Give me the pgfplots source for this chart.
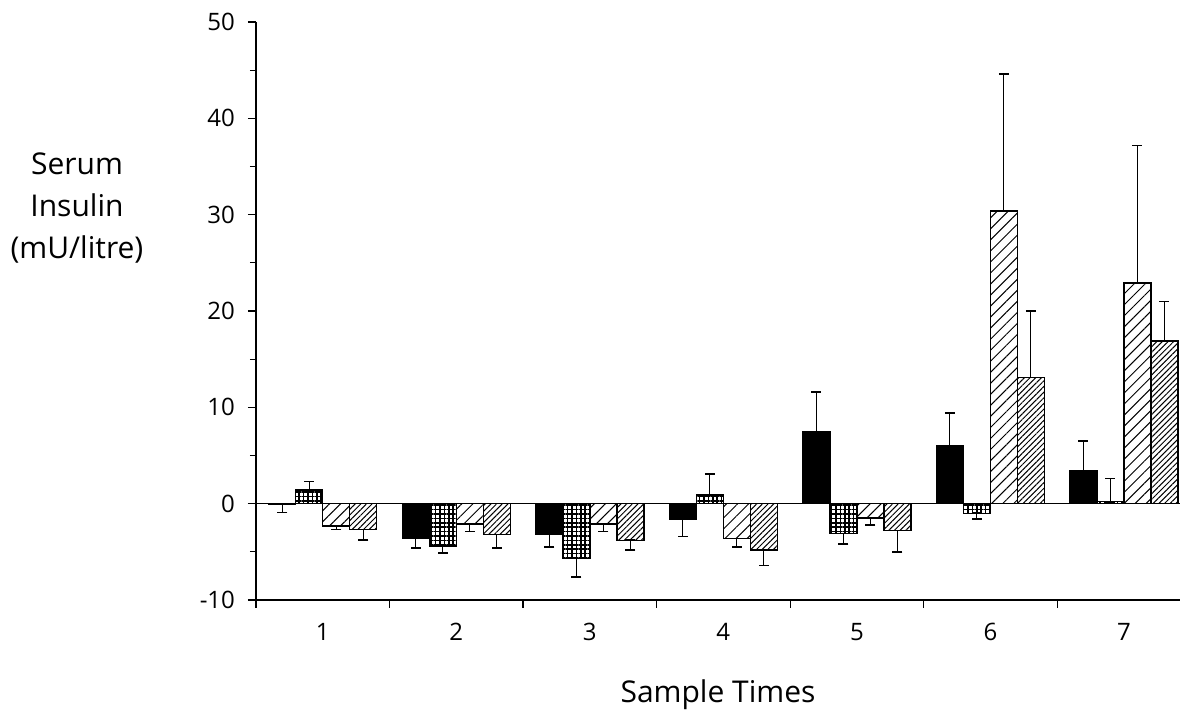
\documentclass[border=0pt]{standalone}
\usepackage{fontspec}
\setmainfont{Open Sans}
\usepackage{pgfplots}
\pgfplotsset{compat=1.18}
\usepackage{pgfplotstable}
\usetikzlibrary{patterns.meta}

% x = sample time, y = mean change, ep/em = error bar up/down
\pgfplotstableread{
x y ep em
1 -0.1 0 0.8
2 -3.6 0 1.0
3 -3.2 0 1.3
4 -1.6 0 1.8
5 7.5 4.1 0
6 6.0 3.4 0
7 3.4 3.1 0
}\tA
\pgfplotstableread{
x y ep em
1 1.4 0.9 0
2 -4.4 0 0.7
3 -5.7 0 1.9
4 0.9 2.2 0
5 -3.1 0 1.1
6 -1.0 0 0.6
7 0.2 2.4 0
}\tB
\pgfplotstableread{
x y ep em
1 -2.3 0 0.4
2 -2.1 0 0.8
3 -2.1 0 0.8
4 -3.6 0 0.9
5 -1.5 0 0.7
6 30.4 14.2 0
7 22.9 14.3 0
}\tC
\pgfplotstableread{
x y ep em
1 -2.7 0 1.1
2 -3.2 0 1.4
3 -3.8 0 1.0
4 -4.8 0 1.6
5 -2.8 0 2.2
6 13.1 6.9 0
7 16.9 4.1 0
}\tD

\begin{document}
\begin{tikzpicture}
\begin{axis}[
  scale only axis,
  width=462pt, height=289pt,
  xmin=0.5, xmax=7.42, ymin=-10, ymax=50,
  axis x line=bottom, axis y line=left,
  axis line style={-, line width=0.8pt},
  ybar=0pt, bar width=13.5pt,
  xtick={0.5,1.5,2.5,3.5,4.5,5.5,6.5},
  xticklabels={,,,,,,},
  extra x ticks={1,2,3,4,5,6,7},
  extra x tick labels={1,2,3,4,5,6,7},
  extra x tick style={major tick length=0pt, tick label style={yshift=-8pt}},
  ytick={-10,0,10,20,30,40,50},
  minor ytick={-5,5,15,25,35,45},
  extra y ticks={0}, extra y tick labels={},
  extra y tick style={grid=major, major grid style={black, line width=0.8pt}},
  tick align=outside, major tick length=4pt, minor tick length=3pt,
  tick style={black, line width=0.6pt},
  tick label style={font=\fontsize{12}{14}\selectfont},
  yticklabel style={xshift=-3pt},
  /pgf/number format/assume math mode=true,
  error bars/y dir=both, error bars/y explicit,
  error bars/error bar style={black, line width=0.6pt},
  error bars/error mark options={rotate=90, black, mark size=2.5pt, line width=0.8pt},
  every axis plot/.append style={draw=black, line width=0.7pt},
  clip=false,
]
\addplot[fill=black] table[x=x, y=y, y error plus=ep, y error minus=em] {\tA};
\addplot[pattern={Hatch[angle=0, distance=2.2pt, line width=0.8pt]}] table[x=x, y=y, y error plus=ep, y error minus=em] {\tB};
\addplot[pattern={Lines[angle=45, distance=3.9pt, line width=0.5pt]}] table[x=x, y=y, y error plus=ep, y error minus=em] {\tC};
\addplot[pattern={Lines[angle=45, distance=2pt, line width=0.5pt]}] table[x=x, y=y, y error plus=ep, y error minus=em] {\tD};
\coordinate (bl) at (rel axis cs:0,0);
\coordinate (tr) at (rel axis cs:1,1);
\node[align=center, font=\fontsize{15}{21}\selectfont] at ([xshift=-89.5pt]rel axis cs:0,0.678) {Serum\\Insulin\\(mU/litre)};
\node[font=\fontsize{15}{18}\selectfont] at ([yshift=-47.5pt]rel axis cs:0.5,0) {Sample Times};
\end{axis}
\pgfresetboundingbox
\path ([xshift=-128pt, yshift=-56pt]bl) rectangle ([yshift=11pt]tr);
\end{tikzpicture}
\end{document}
